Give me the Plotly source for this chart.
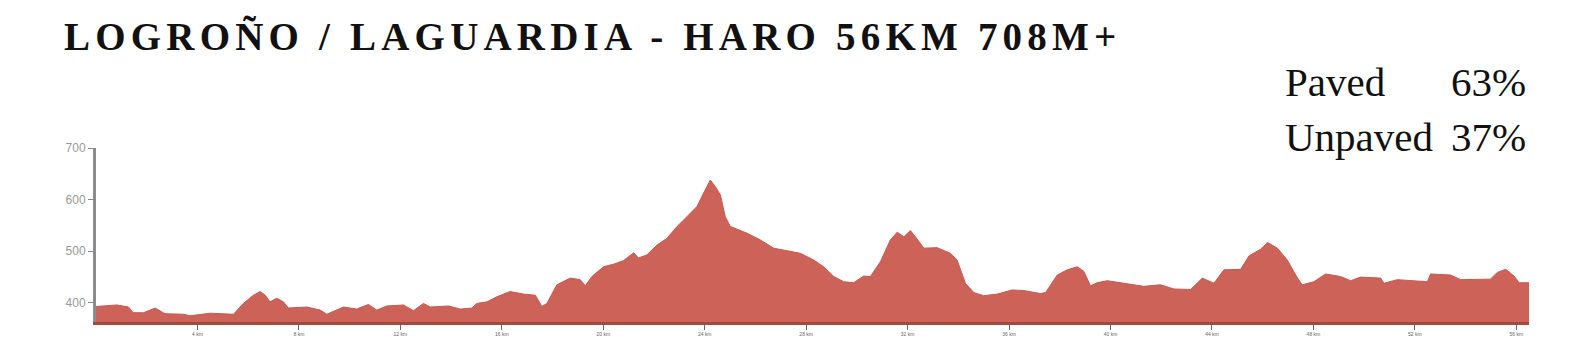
import plotly.graph_objects as go

# Elevation profile (distance km, elevation m)
distance_km = [0.0, 0.42, 0.82, 1.28, 1.47, 1.87, 2.33, 2.72, 3.45, 3.71, 4.50, 5.42, 5.81, 6.21, 6.47,
               6.67, 6.86, 7.13, 7.39, 7.59, 8.31, 8.84, 9.10, 9.76, 10.28, 10.74, 11.07, 11.47, 12.12,
               12.52, 12.91, 13.18, 13.90, 14.36, 14.82, 15.02, 15.42, 15.81, 16.33, 16.86, 17.32, 17.58,
               17.78, 18.17, 18.70, 19.09, 19.29, 19.55, 20.01, 20.41, 20.80, 21.20, 21.39, 21.72, 22.12,
               22.51, 22.91, 23.30, 23.70, 23.96, 24.22, 24.42, 24.62, 24.81, 25.01, 25.67, 26.19, 26.72,
               27.25, 27.77, 28.30, 28.69, 29.09, 29.48, 29.87, 30.27, 30.53, 30.93, 31.32, 31.59, 31.85,
               32.11, 32.31, 32.64, 33.16, 33.69, 33.95, 34.28, 34.61, 35.00, 35.53, 36.12, 36.58, 37.24,
               37.44, 37.90, 38.29, 38.69, 38.95, 39.21, 39.47, 39.87, 40.66, 41.31, 41.97, 42.50, 43.16,
               43.62, 44.08, 44.47, 45.13, 45.46, 45.92, 46.19, 46.58, 46.97, 47.37, 47.56, 48.02, 48.48,
               49.07, 49.47, 49.86, 50.65, 50.78, 51.31, 52.49, 52.62, 53.41, 53.81, 54.98, 55.25, 55.58,
               55.91, 56.11, 56.51]
elevation_m = [393, 394, 396, 392, 381, 381, 390, 379, 378, 375, 380, 378, 399, 415, 422,
               415, 402, 409, 402, 390, 392, 386, 378, 392, 388, 397, 386, 394, 396,
               385, 399, 392, 394, 388, 390, 399, 402, 412, 422, 417, 415, 393,
               399, 435, 448, 445, 433, 451, 470, 475, 482, 497, 487, 493, 512,
               525, 548, 567, 587, 613, 638, 625, 609, 567, 548, 535, 522, 506,
               501, 496, 483, 470, 451, 441, 439, 452, 451, 480, 522, 537, 528,
               540, 528, 506, 507, 496, 483, 438, 420, 414, 417, 425, 424, 418,
               420, 454, 464, 470, 461, 433, 439, 443, 437, 432, 435, 427, 426,
               448, 438, 464, 465, 491, 504, 517, 506, 483, 448, 435, 441, 456,
               451, 443, 450, 448, 438, 445, 441, 456, 454, 445, 446, 459, 465,
               452, 439, 439]

x_tick_vals = [4, 8, 12, 16, 20, 24, 28, 32, 36, 40, 44, 48, 52, 56]
x_tick_text = [f"{v} km" for v in x_tick_vals]
y_tick_vals = [400, 500, 600, 700]

title_text = "LOGROÑO / LAGUARDIA - HARO 56KM 708M+"
surface_labels = ["Paved", "Unpaved"]
surface_values = ["63%", "37%"]

W, H = 1570, 351
ML, MR, MT, MB = 96, 41, 148, 29
PW, PH = W - ML - MR, H - MT - MB

def px_x(p):
    return (p - ML) / PW

def px_y(p):
    return (H - MB - p) / PH

fig = go.Figure()
fig.add_trace(go.Scatter(
    x=distance_km, y=elevation_m, mode="lines", fill="tozeroy",
    line=dict(color="#c65a50", width=1), fillcolor="#cd6259",
    hoverinfo="skip", showlegend=False,
))

annotations = [
    dict(text=f'<span style="letter-spacing:5.2px">{title_text}</span>',
         x=px_x(62), y=px_y(13), xref="paper", yref="paper",
         xanchor="left", yanchor="top", showarrow=False,
         font=dict(family="Liberation Serif", size=39, color="#111111", weight="bold")),
]
row_tops = [57.5, 111.8]
for lab, val, top in zip(surface_labels, surface_values, row_tops):
    annotations.append(dict(text=lab, x=px_x(1283), y=px_y(top), xref="paper", yref="paper",
                            xanchor="left", yanchor="top", showarrow=False,
                            font=dict(family="Liberation Serif", size=41, color="#111111")))
    annotations.append(dict(text=val, x=px_x(1528), y=px_y(top), xref="paper", yref="paper",
                            xanchor="right", yanchor="top", showarrow=False,
                            font=dict(family="Liberation Serif", size=41, color="#111111")))

fig.update_layout(
    width=W, height=H,
    margin=dict(l=ML, r=MR, t=MT, b=MB, pad=0),
    paper_bgcolor="white", plot_bgcolor="white",
    annotations=annotations,
    xaxis=dict(range=[0, 56.5], tickvals=x_tick_vals, ticktext=x_tick_text,
               ticks="outside", ticklen=5, tickwidth=1, tickcolor="#666666",
               tickfont=dict(family="Liberation Sans", size=5, color="#666666"),
               showline=True, linecolor="#a04a42", linewidth=3,
               showgrid=False, zeroline=False, fixedrange=True),
    yaxis=dict(range=[363, 700], tickvals=y_tick_vals,
               ticks="outside", ticklen=5, tickwidth=1, tickcolor="#888888",
               tickfont=dict(family="Liberation Sans", size=12, color="#999999"),
               showline=True, linecolor="#8c8c8c", linewidth=3,
               showgrid=False, zeroline=False, fixedrange=True),
)

fig.write_html("out.html", config={"displayModeBar": False})
